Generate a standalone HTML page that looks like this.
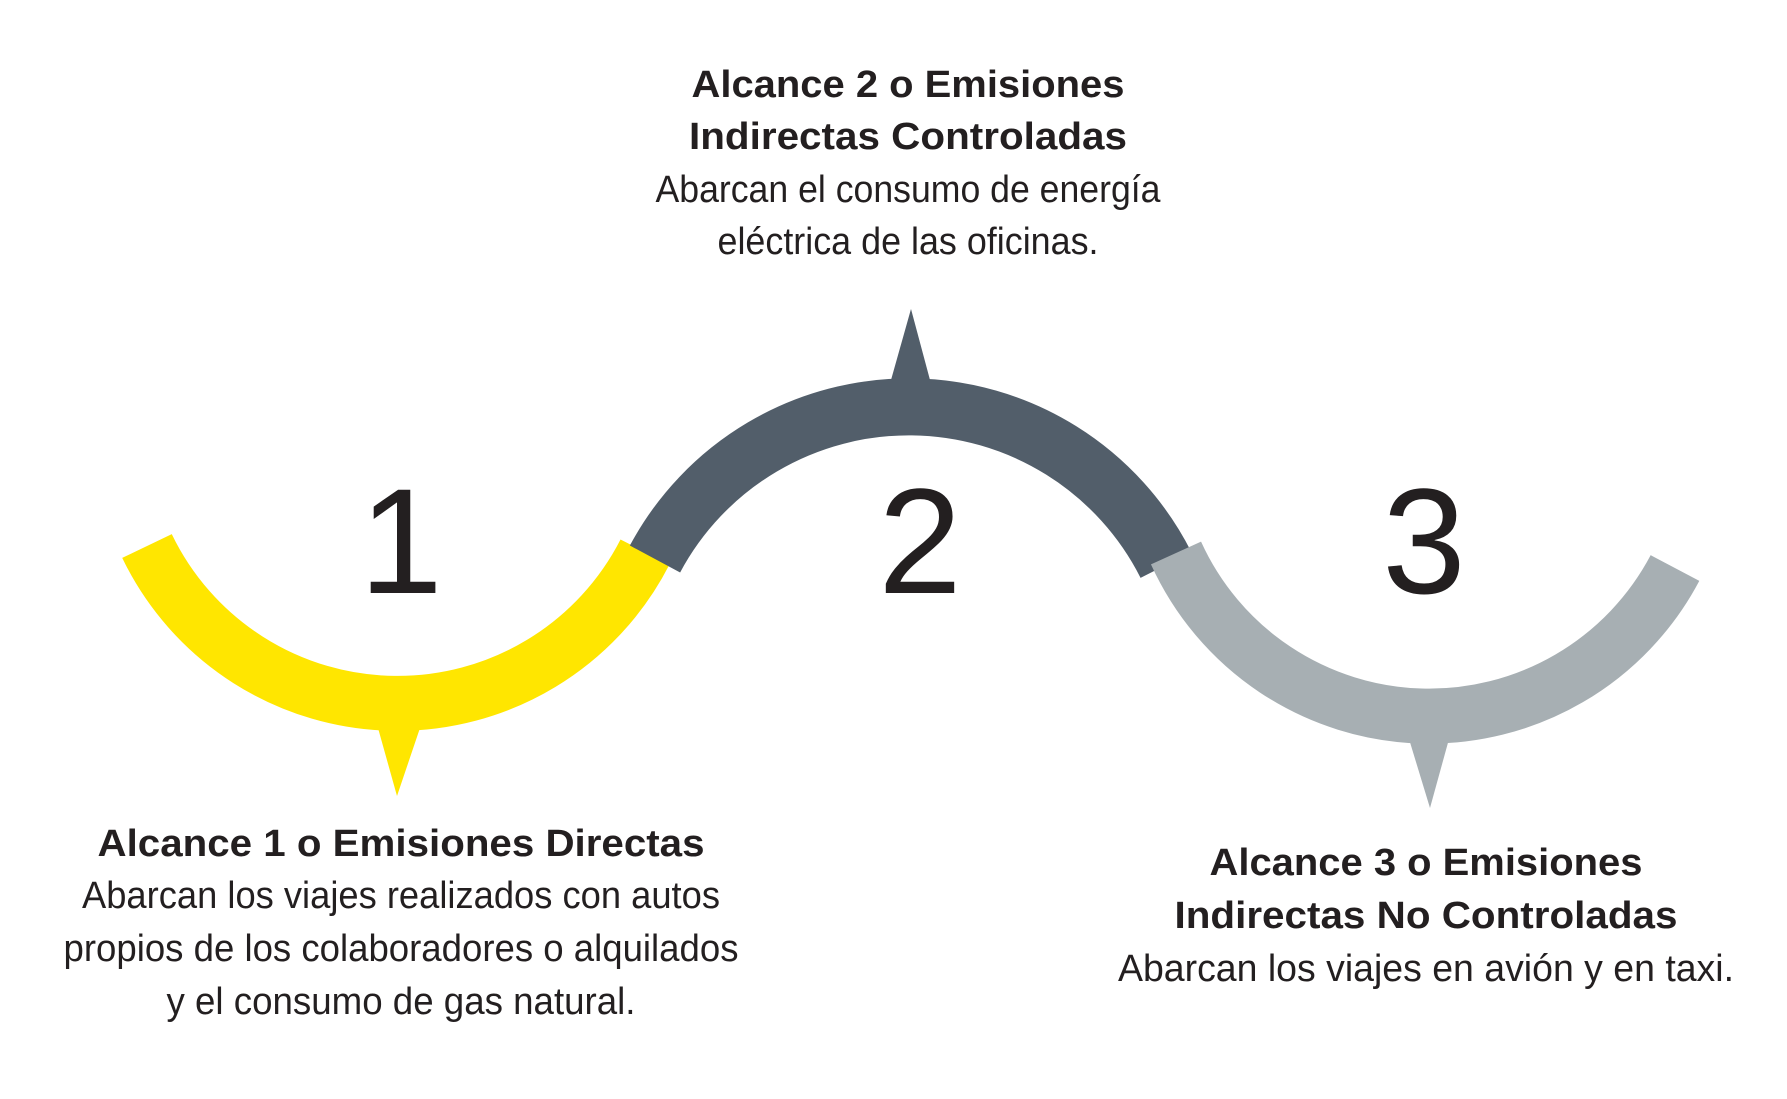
<!DOCTYPE html>
<html><head><meta charset="utf-8"><style>html,body{margin:0;padding:0;background:#fff}svg{display:block}</style></head>
<body>
<svg width="1787" height="1099" viewBox="0 0 1787 1099" xmlns="http://www.w3.org/2000/svg" font-family="Liberation Sans, sans-serif" fill="#231f20">
<path d="M147,546 A278,278 0 0 0 645,552" fill="none" stroke="#FFE600" stroke-width="55"/>
<polygon points="378,728 420,728 397,796" fill="#FFE600"/>
<path d="M655,559 A288,288 0 0 1 1166,565" fill="none" stroke="#525E6A" stroke-width="57"/>
<polygon points="891,380 930,380 911,309" fill="#525E6A"/>
<path d="M1176,553 A278,278 0 0 0 1675,568" fill="none" stroke="#A7AFB3" stroke-width="55"/>
<polygon points="1409,739 1449,739 1430,808" fill="#A7AFB3"/>
<g font-size="150" text-anchor="middle"><text x="401" y="593">1</text><text x="920" y="593">2</text><text x="1424" y="593">3</text></g>
<g font-size="38" text-anchor="middle">
<text x="908" y="97" font-weight="bold" textLength="433" lengthAdjust="spacingAndGlyphs">Alcance 2 o Emisiones</text>
<text x="908" y="149" font-weight="bold" textLength="438" lengthAdjust="spacingAndGlyphs">Indirectas Controladas</text>
<text x="908" y="202" textLength="505" lengthAdjust="spacingAndGlyphs">Abarcan el consumo de energía</text>
<text x="908" y="254" textLength="381" lengthAdjust="spacingAndGlyphs">eléctrica de las oficinas.</text>
<text x="401" y="856" font-weight="bold" textLength="607" lengthAdjust="spacingAndGlyphs">Alcance 1 o Emisiones Directas</text>
<text x="401" y="908" textLength="638" lengthAdjust="spacingAndGlyphs">Abarcan los viajes realizados con autos</text>
<text x="401" y="961" textLength="675" lengthAdjust="spacingAndGlyphs">propios de los colaboradores o alquilados</text>
<text x="401" y="1014" textLength="469" lengthAdjust="spacingAndGlyphs">y el consumo de gas natural.</text>
<text x="1426" y="875" font-weight="bold" textLength="433" lengthAdjust="spacingAndGlyphs">Alcance 3 o Emisiones</text>
<text x="1426" y="928" font-weight="bold" textLength="503" lengthAdjust="spacingAndGlyphs">Indirectas No Controladas</text>
<text x="1426" y="981" textLength="616" lengthAdjust="spacingAndGlyphs">Abarcan los viajes en avión y en taxi.</text>
</g>
</svg>
</body></html>
